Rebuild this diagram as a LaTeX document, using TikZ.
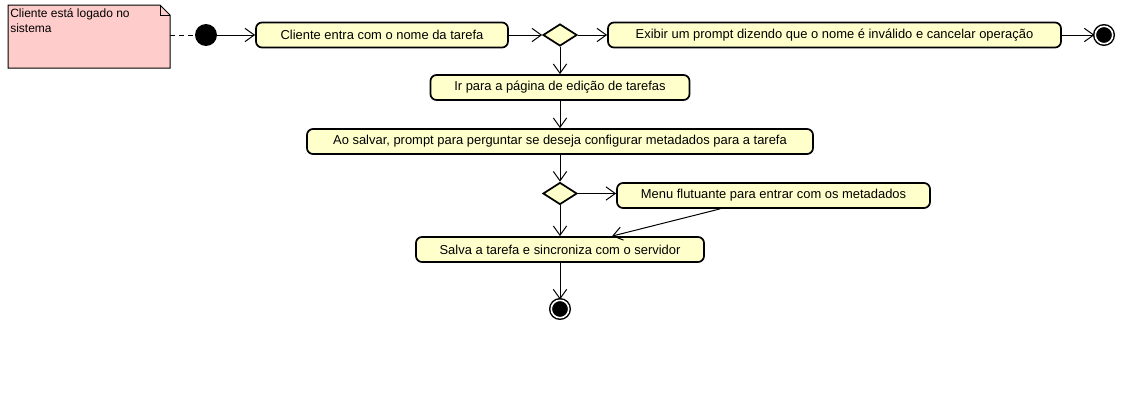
\documentclass[tikz,border=0pt]{standalone}
\usepackage{fontspec}
\setmainfont{Liberation Sans}
\usetikzlibrary{shapes.geometric,arrows.meta}

\definecolor{actfill}{RGB}{255,255,204}
\definecolor{notefill}{RGB}{255,204,204}

\begin{document}
\begin{tikzpicture}[x=0.75pt, y=-0.75pt,
  font=\fontsize{9.7}{11.5}\selectfont,
  action/.style={draw, rounded corners=4.5pt, line width=1.3pt, fill=actfill,
    minimum height=18.75pt, inner sep=0pt},
  decision/.style={diamond, draw, line width=1.3pt, fill=actfill,
    minimum width=25.5pt, minimum height=16.5pt, inner sep=0pt},
  startnode/.style={circle, fill=black, minimum size=16.5pt, inner sep=0pt},
  endnode/.style={circle, fill=black, draw=black, double=white, double distance=1.2pt,
    line width=1.1pt, minimum size=13.1pt, inner sep=0pt},
  flow/.style={-{Straight Barb[length=7pt, width=10pt]}, line width=0.75pt}]

\useasboundingbox (0,0) rectangle (1122,407);

% note
\filldraw[fill=notefill, draw=black, line width=0.75pt]
  (8,5) -- (160,5) -- (170,15) -- (170,68) -- (8,68) -- cycle;
\draw[line width=0.75pt] (160,5) -- (160,15) -- (170,15);
\node[anchor=north west, align=left, inner sep=0pt, font=\fontsize{9}{11.25}\selectfont] (note) at (10,8) {Cliente está logado no\\sistema};
\coordinate (noteE) at (170,35);

% top row
\node[startnode] (start) at (206,35) {};
\node[action, minimum width=189pt] (entra) at (382,35) {Cliente entra com o nome da tarefa};
\node[decision] (nome) at (560,35) {};
\node[action, minimum width=339.75pt] (invalido) at (834.5,35) {Exibir um prompt dizendo que o nome é inválido e cancelar operação};
\node[endnode] (fim1) at (1104,35) {};

% column
\node[action, minimum width=194.25pt] (edicao) at (560,87.5) {Ir para a página de edição de tarefas};
\node[action, minimum width=379.5pt] (salvar) at (560,141.5) {Ao salvar, prompt para perguntar se deseja configurar metadados para a tarefa};
\node[decision] (meta) at (560,193.5) {};
\node[action, minimum width=234.75pt] (menu) at (773.5,195.5) {Menu flutuante para entrar com os metadados};
\node[action, minimum width=216pt] (sync) at (560,249.5) {Salva a tarefa e sincroniza com o servidor};
\node[endnode] (fim2) at (560,309) {};

\draw[dashed, dash pattern=on 3.75pt off 3pt, line width=0.75pt] (noteE) -- (start);
\draw[flow] (start) -- (entra);
\draw[flow] (entra) -- (nome);
\draw[flow] (nome) -- (invalido);
\draw[flow] (invalido) -- (fim1);
\draw[flow] (nome) -- (edicao);
\draw[flow] (edicao) -- (salvar);
\draw[flow] (salvar) -- (meta);
\draw[flow] (meta.east) -- (meta.east -| menu.west);
\draw[flow] (meta) -- (sync);
\draw[flow] ([xshift=-40pt]menu.south) -- ([xshift=39pt]sync.north);
\draw[flow] (sync) -- (fim2);

\end{tikzpicture}
\end{document}
